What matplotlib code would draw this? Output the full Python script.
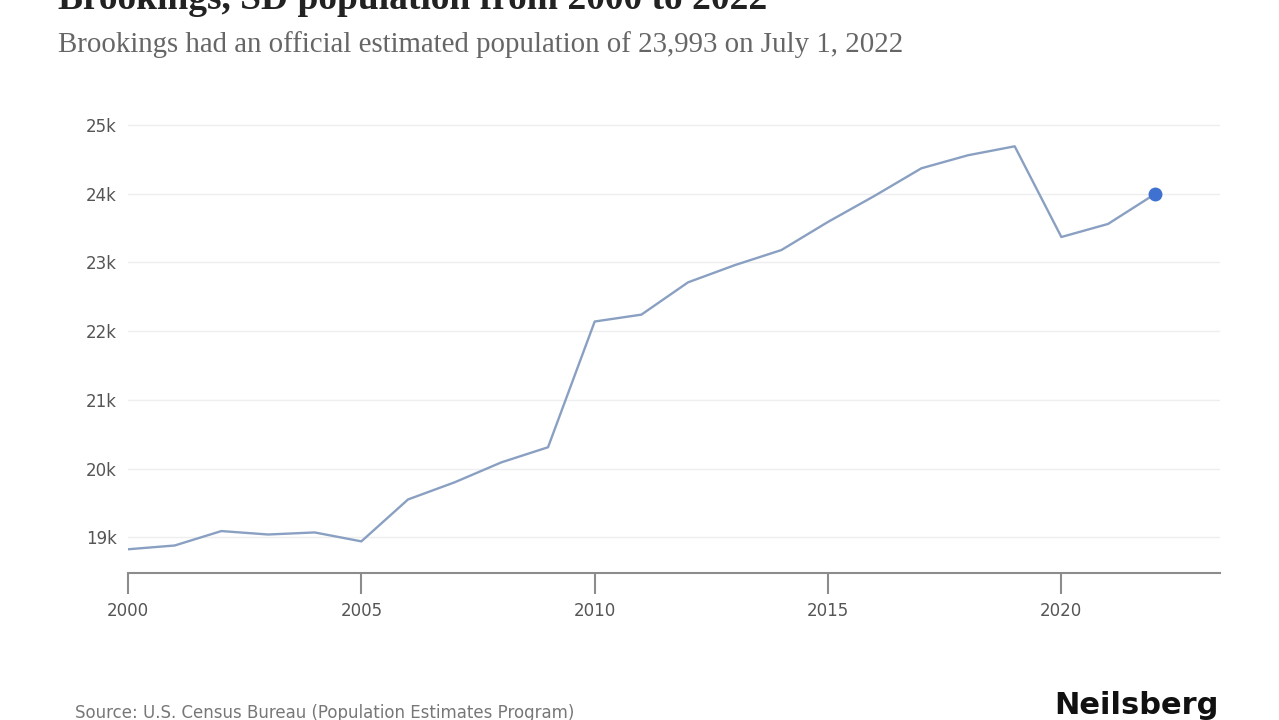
import numpy as np
import matplotlib
matplotlib.use("Agg")
import matplotlib.pyplot as plt
from matplotlib.ticker import FuncFormatter

# population estimates
years = list(range(2000, 2023))
population = [18825, 18880, 19090, 19040, 19070, 18940, 19550, 19800, 20090, 20310,
              22140, 22240, 22710, 22960, 23180, 23590, 23970, 24370, 24560, 24690,
              23370, 23560, 23993]
xticks = [2000, 2005, 2010, 2015, 2020]
yticks = [19000, 20000, 21000, 22000, 23000, 24000, 25000]

title = "Brookings, SD population from 2000 to 2022"
subtitle = "Brookings had an official estimated population of 23,993 on July 1, 2022"
source = "Source: U.S. Census Bureau (Population Estimates Program)"

fig = plt.figure(figsize=(12.79, 7.2), dpi=100)
fig.set_facecolor('white')
ax = fig.add_axes([0.1001, 0.2042, 0.8538, 0.6508])

ax.plot(years, population, color='#8aa0c2', linewidth=1.7, solid_joinstyle='round')
ax.plot(years[-1], population[-1], 'o', color='#3f72d0', markersize=9)

ax.set_xlim(2000, 2023.4)
ax.set_ylim(18480, 25300)
ax.set_xticks(xticks)
ax.set_yticks(yticks)
ax.yaxis.set_major_formatter(FuncFormatter(lambda v, p: f"{int(v/1000)}k"))

for s in ['top', 'right', 'left']:
    ax.spines[s].set_visible(False)
ax.spines['bottom'].set_color('#8c8c8c')
ax.spines['bottom'].set_linewidth(1.5)

ax.grid(axis='y', color='#eeeeee', linewidth=1)
ax.set_axisbelow(True)
ax.tick_params(axis='y', length=0, pad=8, labelsize=12, labelcolor='#555555')
ax.tick_params(axis='x', length=15, width=1.5, color='#8c8c8c', pad=6,
               labelsize=12, labelcolor='#555555')

fig.text(0.045, 1 - 9/720, title, family='Liberation Serif', fontsize=27,
         fontweight='bold', color='#222222', va='baseline', ha='left')
fig.text(0.045, 1 - 45/720, subtitle, family='Liberation Serif', fontsize=20.8,
         color='#666666', va='center', ha='left')
fig.text(0.059, 1 - 713/720, source, fontsize=12, color='#777777',
         va='center', ha='left')
fig.text(0.9531, 1 - 705/720, "Neilsberg", fontsize=22, fontweight='bold',
         color='#111111', va='center', ha='right')

fig.savefig('out.png', dpi=100, facecolor='white')
